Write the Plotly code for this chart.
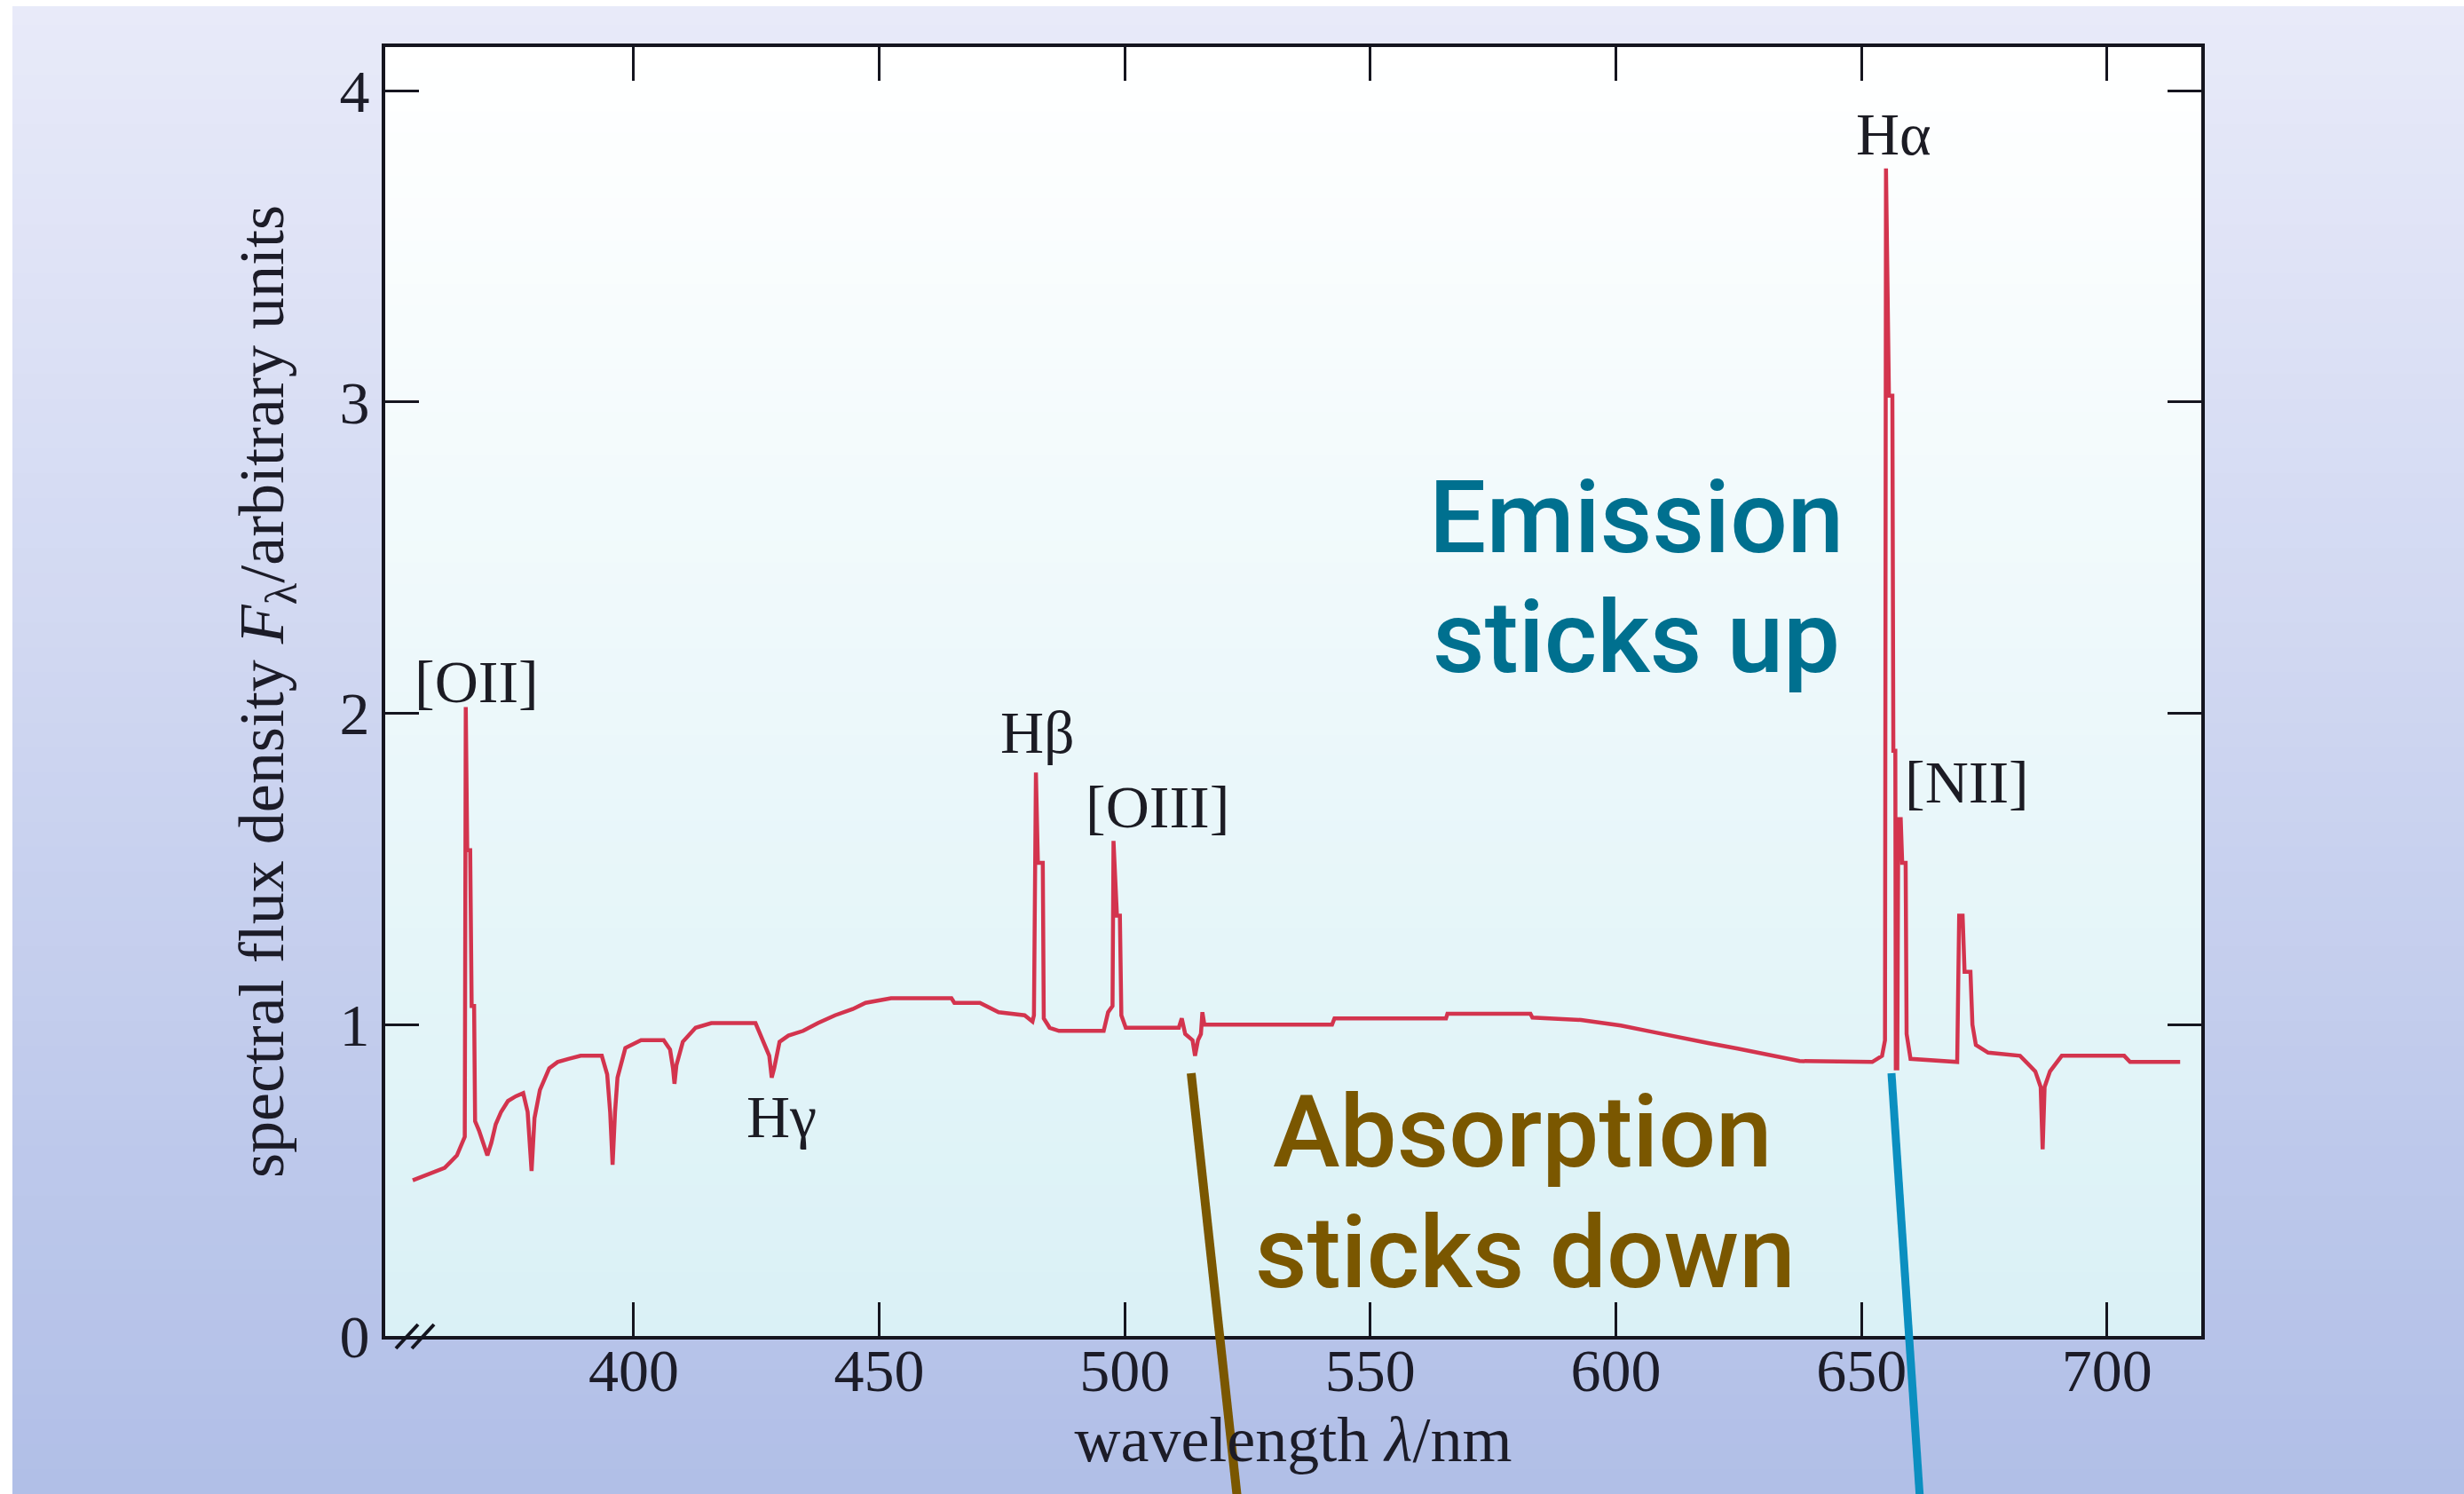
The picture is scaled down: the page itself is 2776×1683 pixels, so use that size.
import plotly.graph_objects as go

# ---------------- data ----------------
wavelength_nm = [
    355.0, 358.0, 361.5, 364.0, 365.4, 365.6, 365.8, 366.1, 366.7, 367.0, 367.5, 367.7,
    368.5, 370.2, 371.0, 371.9, 373.0, 374.4, 376.0, 377.5, 378.4, 379.2, 379.8, 380.9,
    382.8, 384.5, 386.7, 389.2, 393.5, 394.6, 395.2, 395.7, 396.2, 396.7, 398.3, 400.0,
    401.5, 406.1, 407.4, 408.0, 408.3, 408.7, 410.0, 412.6, 415.8, 424.8, 426.4, 427.6,
    428.1, 428.6, 429.7, 431.5, 434.5, 437.5, 441.0, 444.6, 447.2, 452.4, 464.7, 465.3,
    470.5, 474.3, 479.6, 481.2, 481.5, 481.9, 482.3, 483.3, 483.5, 484.7, 486.6, 495.7,
    496.6, 497.5, 497.7, 498.4, 499.0, 499.3, 500.2, 511.0, 511.6, 512.3, 513.8, 514.3,
    514.9, 515.5, 515.8, 516.2, 542.2, 542.7, 565.4, 565.7, 582.6, 583.0, 592.9, 601.0,
    607.4, 613.2, 619.0, 624.8, 630.5, 637.4, 652.2, 654.2, 654.8, 655.0, 655.6, 656.3,
    656.5, 656.9, 657.0, 657.3, 657.5, 658.0, 658.3, 659.0, 659.2, 659.6, 660.0, 669.5,
    669.9, 670.6, 671.0, 672.2, 672.6, 673.3, 675.8, 682.3, 685.4, 686.5, 686.9, 687.3,
    688.4, 690.8, 703.5, 704.7, 714.9,
]
flux = [
    0.50, 0.52, 0.54, 0.58, 0.63, 0.64, 2.02, 1.56, 1.56, 1.06, 1.06, 0.69,
    0.66, 0.58, 0.62, 0.68, 0.72, 0.755, 0.77, 0.78, 0.72, 0.53, 0.70, 0.79,
    0.86, 0.88, 0.89, 0.90, 0.90, 0.84, 0.72, 0.55, 0.72, 0.83, 0.925, 0.94,
    0.95, 0.95, 0.92, 0.86, 0.81, 0.87, 0.945, 0.99, 1.005, 1.005, 0.945, 0.90,
    0.83, 0.86, 0.945, 0.965, 0.98, 1.005, 1.03, 1.05, 1.07, 1.085, 1.085, 1.07,
    1.07, 1.04, 1.03, 1.01, 1.03, 1.81, 1.52, 1.52, 1.02, 0.99, 0.98, 0.98,
    1.04, 1.06, 1.59, 1.35, 1.35, 1.03, 0.99, 0.99, 1.02, 0.97, 0.95, 0.90,
    0.95, 0.97, 1.04, 1.00, 1.00, 1.02, 1.02, 1.035, 1.035, 1.023, 1.015, 0.997,
    0.977, 0.957, 0.94, 0.923, 0.906, 0.883, 0.88, 0.90, 0.95, 3.75, 3.02, 3.02,
    1.88, 1.88, 0.86, 0.86, 1.66, 1.66, 1.52, 1.52, 0.97, 0.93, 0.89, 0.88,
    1.35, 1.35, 1.17, 1.17, 1.00, 0.935, 0.91, 0.90, 0.85, 0.80, 0.60, 0.80,
    0.85, 0.90, 0.90, 0.88, 0.88,
]

x_ticks = [400, 450, 500, 550, 600, 650, 700]
y_ticks = [0, 1, 2, 3, 4]

line_labels = ["[OII]", "Hβ", "[OIII]", "Hγ", "Hα", "[NII]"]
label_x = [368.0, 482.3, 506.6, 430.1, 656.5, 671.5]
label_y = [2.10, 1.94, 1.70, 0.705, 3.86, 1.78]

x_range = [349.4, 719.2]
y_range = [0, 4.14]

# ---------------- layout geometry ----------------
W, H = 2776, 1683
L, R, T, B = 434, 2480, 53, 1505   # plot-area edges in pixels


def px_to_paper_x(px):
    return (px - L) / (R - L)


def px_to_paper_y(py):
    return (B - py) / (B - T)


def lerp_color(c0, c1, t):
    a = [int(c0[i:i + 2], 16) for i in (1, 3, 5)]
    b = [int(c1[i:i + 2], 16) for i in (1, 3, 5)]
    return "rgb(%d,%d,%d)" % tuple(round(a[k] + (b[k] - a[k]) * t) for k in range(3))


shapes = []
# outer background gradient (vertical)
n_out = 60
for i in range(n_out):
    y0 = H * i / n_out
    y1 = H * (i + 1) / n_out + 1
    shapes.append(dict(type="rect", xref="paper", yref="paper",
                       x0=px_to_paper_x(0), x1=px_to_paper_x(W),
                       y0=px_to_paper_y(y0), y1=px_to_paper_y(y1),
                       fillcolor=lerp_color("#e8eaf9", "#b1bfe7", i / (n_out - 1)),
                       line=dict(width=0), layer="below"))
# white strips at top/left edge
shapes.append(dict(type="rect", xref="paper", yref="paper",
                   x0=px_to_paper_x(0), x1=px_to_paper_x(W),
                   y0=px_to_paper_y(0), y1=px_to_paper_y(7),
                   fillcolor="#ffffff", line=dict(width=0), layer="below"))
shapes.append(dict(type="rect", xref="paper", yref="paper",
                   x0=px_to_paper_x(0), x1=px_to_paper_x(14),
                   y0=px_to_paper_y(0), y1=px_to_paper_y(H),
                   fillcolor="#ffffff", line=dict(width=0), layer="below"))
# plot-area gradient
n_in = 60
for i in range(n_in):
    y0 = T + (B - T) * i / n_in
    y1 = T + (B - T) * (i + 1) / n_in + 1
    shapes.append(dict(type="rect", xref="paper", yref="paper",
                       x0=0, x1=1,
                       y0=px_to_paper_y(y0), y1=px_to_paper_y(min(y1, B)),
                       fillcolor=lerp_color("#ffffff", "#daf1f6", i / (n_in - 1)),
                       line=dict(width=0), layer="below"))

# axis-break marks "//"
for (ax0, ax1) in [((446, 1519), (471, 1492)), ((464, 1519), (489, 1492))]:
    shapes.append(dict(type="line", xref="paper", yref="paper",
                       x0=px_to_paper_x(ax0[0]), y0=px_to_paper_y(ax0[1]),
                       x1=px_to_paper_x(ax1[0]), y1=px_to_paper_y(ax1[1]),
                       line=dict(color="#15151f", width=4), layer="above"))

# pointer lines
shapes.append(dict(type="line", xref="paper", yref="paper",
                   x0=px_to_paper_x(1342), y0=px_to_paper_y(1209),
                   x1=px_to_paper_x(1394), y1=px_to_paper_y(H + 5),
                   line=dict(color="#7a5700", width=10), layer="above"))
shapes.append(dict(type="line", xref="paper", yref="paper",
                   x0=px_to_paper_x(2131), y0=px_to_paper_y(1209),
                   x1=px_to_paper_x(2163), y1=px_to_paper_y(H + 5),
                   line=dict(color="#0b8fc0", width=9), layer="above"))

fig = go.Figure()
fig.add_trace(go.Scatter(x=wavelength_nm, y=flux, mode="lines",
                         line=dict(color="#d3344e", width=4.5),
                         hoverinfo="skip", showlegend=False))

serif = "Liberation Serif"
annotations = []
for txt, lx, ly in zip(line_labels, label_x, label_y):
    annotations.append(dict(x=lx, y=ly, xref="x", yref="y", text=txt, showarrow=False,
                            xanchor="center", yanchor="middle",
                            font=dict(family=serif, size=68, color="#1c1c24")))

sans = "Roboto"
big_texts = [
    ("Emission", 604.1, 2.63, "#00708f"),
    ("sticks up", 604.1, 2.245, "#00708f"),
    ("Absorption", 581.1, 0.655, "#7a5700"),
    ("sticks down", 581.5, 0.268, "#7a5700"),
]
for txt, tx, ty, col in big_texts:
    annotations.append(dict(x=tx, y=ty, xref="x", yref="y", text=txt, showarrow=False,
                            xanchor="center", yanchor="middle",
                            font=dict(family=sans, size=114, color=col, weight=500)))

axis_common = dict(showline=True, linewidth=4, linecolor="#15151f", mirror="ticks",
                   ticks="inside", ticklen=38, tickwidth=3, tickcolor="#15151f",
                   showgrid=False, zeroline=False,
                   tickfont=dict(family=serif, size=68, color="#1c1c28"))

fig.update_layout(
    width=W, height=H,
    margin=dict(l=L, r=W - R, t=T, b=H - B, pad=0),
    paper_bgcolor="#ccd3f0",
    plot_bgcolor="rgba(0,0,0,0)",
    shapes=shapes,
    annotations=annotations,
    xaxis=dict(range=x_range, tickvals=x_ticks, ticktext=[str(v) for v in x_ticks],
               ticklabelstandoff=-24,
               title=dict(text="wavelength <i>λ</i>/nm", standoff=4,
                          font=dict(family=serif, size=72, color="#1c1c28")),
               **axis_common),
    yaxis=dict(range=y_range, tickvals=y_ticks, ticktext=[str(v) for v in y_ticks],
               title=dict(text="spectral flux density <i>F</i><sub>λ</sub>/arbitrary units",
                          standoff=40,
                          font=dict(family=serif, size=72, color="#1c1c28")),
               **axis_common),
)

fig.write_html("out.html")
